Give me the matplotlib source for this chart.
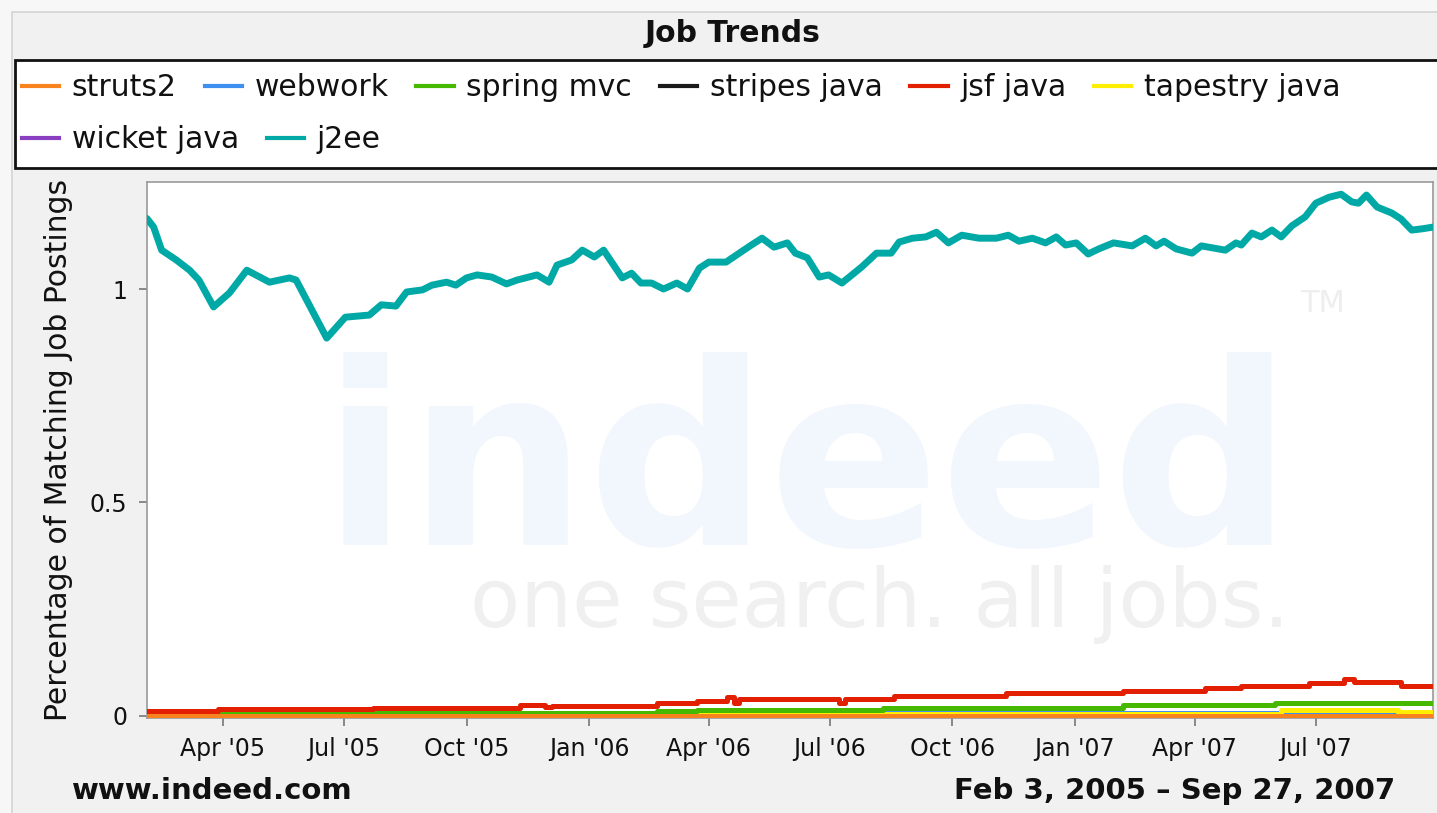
import matplotlib
matplotlib.use("Agg")
import matplotlib.pyplot as plt
import matplotlib.dates as mdates
from matplotlib.lines import Line2D
from matplotlib.patches import Rectangle
import pandas as pd

W, H = 1437, 813
start = pd.Timestamp("2005-02-03")
end = pd.Timestamp("2007-09-27")

# days after Feb 3, 2005 and percentage values
j2ee_days = [0, 5, 11, 22, 32, 39, 50, 62, 75, 92, 107, 112, 135, 149, 167, 176, 187, 195,
             207, 214, 225, 232, 240, 248, 259, 270, 278, 293, 302, 308, 319, 327, 336, 343,
             357, 364, 371, 379, 388, 398, 406, 415, 422, 435, 443, 454, 462, 471, 481, 487,
             496, 505, 512, 522, 537, 548, 559, 565, 575, 585, 593, 602, 612, 625, 638, 647,
             655, 665, 675, 683, 690, 698, 707, 715, 726, 740, 750, 758, 764, 773, 785, 792,
             810, 818, 822, 830, 837, 845, 852, 860, 870, 878, 888, 897, 905, 910, 916, 924,
             935, 942, 950, 958, 966]
j2ee = [1.165, 1.145, 1.091, 1.068, 1.044, 1.021, 0.958, 0.991, 1.044, 1.016, 1.026, 1.021,
        0.885, 0.934, 0.939, 0.963, 0.960, 0.993, 0.998, 1.009, 1.016, 1.009, 1.026, 1.033,
        1.028, 1.012, 1.021, 1.033, 1.016, 1.056, 1.068, 1.091, 1.075, 1.091, 1.026, 1.037,
        1.014, 1.014, 1.000, 1.014, 1.000, 1.049, 1.063, 1.063, 1.080, 1.103, 1.119, 1.098,
        1.108, 1.084, 1.073, 1.028, 1.033, 1.014, 1.052, 1.084, 1.084, 1.110, 1.119, 1.122,
        1.133, 1.108, 1.126, 1.119, 1.119, 1.126, 1.112, 1.119, 1.108, 1.122, 1.103, 1.108,
        1.082, 1.094, 1.108, 1.101, 1.119, 1.101, 1.112, 1.094, 1.084, 1.101, 1.091, 1.108,
        1.103, 1.131, 1.122, 1.138, 1.122, 1.148, 1.169, 1.201, 1.215, 1.222, 1.204, 1.201,
        1.220, 1.192, 1.178, 1.164, 1.138, 1.141, 1.145]

jsf_days = [0, 53, 170, 280, 299, 304, 383, 413, 436, 441, 445, 520, 524, 561, 645, 733,
            795, 822, 873, 899, 907, 942, 966]
jsf = [0.012, 0.016, 0.019, 0.026, 0.020, 0.024, 0.030, 0.036, 0.044, 0.031, 0.040, 0.031,
       0.039, 0.047, 0.053, 0.058, 0.065, 0.071, 0.078, 0.086, 0.079, 0.070, 0.070]

spring_days = [0, 53, 383, 413, 553, 733, 847, 966]
spring = [0.004, 0.008, 0.011, 0.014, 0.019, 0.026, 0.031, 0.031]

webwork_days = [0, 413, 966]
webwork = [0.005, 0.008, 0.008]

tapestry_days = [0, 852, 940, 966]
tapestry = [0.004, 0.014, 0.009, 0.009]

struts2_days = [0, 966]
struts2 = [0.001, 0.001]

stripes_days = [0, 966]
stripes = [0.0, 0.0]

wicket_days = [0, 966]
wicket = [0.001, 0.001]

series = [
    ("struts2", struts2_days, struts2, "#f7821e", 6),
    ("webwork", webwork_days, webwork, "#3f8ef2", 3),
    ("spring mvc", spring_days, spring, "#46b800", 4),
    ("stripes java", stripes_days, stripes, "#1a1a1a", 2),
    ("jsf java", jsf_days, jsf, "#e21f00", 5),
    ("tapestry java", tapestry_days, tapestry, "#ffee00", 3.5),
    ("wicket java", wicket_days, wicket, "#8a3fc0", 2.5),
    ("j2ee", j2ee_days, j2ee, "#00a9a6", 7),
]


def fx(px):
    return px / W


def fy(py):
    return 1 - py / H


fig = plt.figure(figsize=(W / 100, H / 100), dpi=100, facecolor="#f7f7f7")

# outer panel (behind the axes)
fig.patches.append(Rectangle((fx(12), fy(H + 10)), 1.2, fy(12) - fy(H + 10),
                             transform=fig.transFigure, facecolor="#f1f1f1",
                             edgecolor="#d4d4d4", linewidth=1.2, zorder=-5))

ax = fig.add_axes([fx(147), fy(718), fx(1433) - fx(147), fy(182) - fy(718)])
ax.set_facecolor("white")

# faint indeed watermark
ax.text(fx(322), fy(545), "indeed", transform=fig.transFigure, fontsize=182,
        fontweight="bold", color="#f2f6fd", ha="left", va="baseline", zorder=0)
ax.text(fx(470), fy(627), "one search. all jobs.", transform=fig.transFigure,
        fontsize=59, color="#f0f0f0", ha="left", va="baseline", zorder=0)
ax.text(fx(1300), fy(312), "TM", transform=fig.transFigure, fontsize=22,
        color="#eeeeee", ha="left", va="baseline", zorder=0)

handles = []
for name, days, vals, color, z in series:
    dates = start + pd.to_timedelta(days, unit="D")
    lw = 5.0 if name == "j2ee" else 3.6
    style = "default" if name == "j2ee" else "steps-post"
    ax.plot(dates, vals, color=color, lw=lw, drawstyle=style, zorder=z,
            solid_joinstyle="round", solid_capstyle="round")
    handles.append(Line2D([], [], color=color, lw=3, label=name))

ax.set_xlim(start, end)
ax.set_ylim(-0.0047, 1.2506)
ax.set_yticks([0, 0.5, 1])
ax.set_yticklabels(["0", "0.5", "1"])
ax.xaxis.set_major_locator(mdates.MonthLocator(bymonth=[1, 4, 7, 10]))
ax.xaxis.set_major_formatter(mdates.DateFormatter("%b '%y"))
ax.tick_params(axis="both", labelsize=17, length=6, width=1.2, color="#777777",
               labelcolor="#111111", pad=8)
for s in ax.spines.values():
    s.set_color("#9a9a9a")
    s.set_linewidth(1.2)
ax.set_ylabel("Percentage of Matching Job Postings", fontsize=21.5, color="#111111",
              labelpad=12)

# title and footer
fig.text(fx(733), fy(33), "Job Trends", fontsize=21.5, fontweight="bold",
         ha="center", va="center", color="#111111")
fig.text(fx(72), fy(791), "www.indeed.com", fontsize=21, fontweight="bold",
         ha="left", va="center", color="#111111")
fig.text(fx(1395), fy(791), "Feb 3, 2005 \u2013 Sep 27, 2007", fontsize=21,
         fontweight="bold", ha="right", va="center", color="#111111")

# legend box and two flowing rows
fig.patches.append(Rectangle((fx(15), fy(168)), 1.2, fy(60) - fy(168),
                             transform=fig.transFigure, facecolor="white",
                             edgecolor="#111111", linewidth=2, zorder=1))
leg_kw = dict(frameon=False, fontsize=21.5, handlelength=1.25, handletextpad=0.42,
              columnspacing=0.93, borderpad=0, borderaxespad=0, labelcolor="#111111")
fig.legend(handles=handles[:6], ncol=6, loc="center left",
           bbox_to_anchor=(fx(22), fy(88)), **leg_kw)
fig.legend(handles=handles[6:], ncol=2, loc="center left",
           bbox_to_anchor=(fx(22), fy(140)), **leg_kw)

fig.savefig("out.png", dpi=100, facecolor=fig.get_facecolor())
